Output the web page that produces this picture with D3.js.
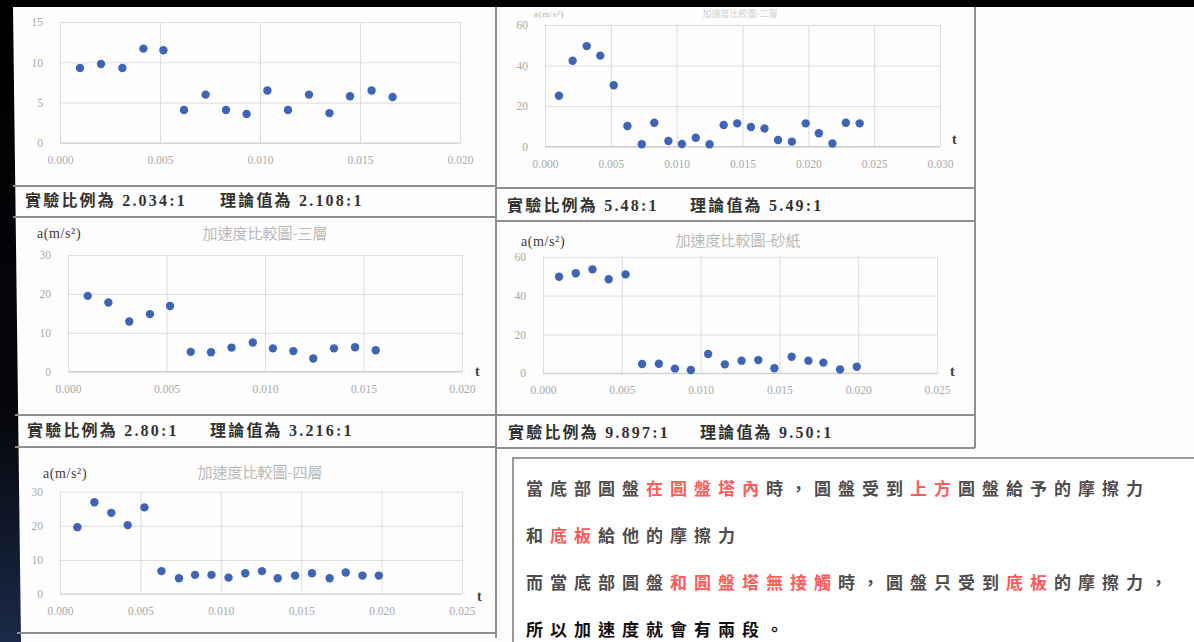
<!DOCTYPE html>
<html>
<head>
<meta charset="utf-8">
<script src="https://cdn.jsdelivr.net/npm/d3@7/dist/d3.min.js"></script>
<style>
  html, body { margin: 0; padding: 0; background: #000; }
  svg { display: block; }
</style>
</head>
<body>
<svg id="chart" width="1194" height="642"></svg>
<script>
// ---------- data ----------
const t1 = [0.00100,0.00205,0.00312,0.00417,0.00517,0.00620,0.00728,0.00830,0.00933,0.01037,0.01140,0.01245,0.01347,0.01450,0.01558,0.01663];
const a1 = [9.3,9.8,9.3,11.7,11.5,4.1,6.0,4.1,3.6,6.5,4.1,6.0,3.7,5.8,6.5,5.7];

const t2 = [0.00106,0.00210,0.00317,0.00420,0.00522,0.00626,0.00735,0.00830,0.00937,0.01040,0.01145,0.01250,0.01357,0.01460,0.01564,0.01667,0.01770,0.01875,0.01980,0.02080,0.02183,0.02285,0.02390];
const a2 = [25.1,42.4,49.6,44.9,30.3,10.2,1.2,11.8,2.8,1.3,4.4,1.2,10.7,11.5,9.7,9.0,3.3,2.5,11.5,6.6,1.6,11.8,11.5];

const t3 = [0.00100,0.00205,0.00311,0.00416,0.00518,0.00623,0.00726,0.00830,0.00938,0.01040,0.01144,0.01245,0.01350,0.01457,0.01562];
const a3 = [19.5,17.8,12.9,14.8,16.9,5.1,5.0,6.2,7.5,6.0,5.3,3.4,6.0,6.3,5.5];

const t4 = [0.00102,0.00208,0.00314,0.00417,0.00524,0.00629,0.00735,0.00837,0.00938,0.01048,0.01154,0.01260,0.01366,0.01468,0.01578,0.01684,0.01779,0.01885,0.01991];
const a4 = [49.7,51.5,53.5,48.4,50.9,4.8,4.9,2.4,1.7,9.9,4.6,6.5,6.8,2.6,8.5,6.5,5.5,2.0,3.4];

const t5 = [0.00108,0.00214,0.00319,0.00421,0.00525,0.00631,0.00740,0.00840,0.00942,0.01048,0.01152,0.01256,0.01354,0.01462,0.01567,0.01677,0.01777,0.01881,0.01983];
const a5 = [19.6,26.9,23.8,20.2,25.4,6.7,4.6,5.6,5.6,4.8,6.1,6.7,4.6,5.4,6.1,4.6,6.3,5.4,5.4];

const xTicks020 = [0, 0.005, 0.010, 0.015, 0.020];
const xTicks025 = [0, 0.005, 0.010, 0.015, 0.020, 0.025];
const xTicks030 = [0, 0.005, 0.010, 0.015, 0.020, 0.025, 0.030];
const yTicks15 = [0, 5, 10, 15];
const yTicks30 = [0, 10, 20, 30];
const yTicks60 = [0, 20, 40, 60];

const chartTitles = ["", "加速度比較圖-二層", "加速度比較圖-三層", "加速度比較圖-砂紙", "加速度比較圖-四層"];
const yAxisLabel = "a(m/s²)";
const xAxisLabel = "t";

const captionExpLabel = "實驗比例為";
const captionTheoryLabel = "理論值為";
const captionExp = ["2.034:1", "5.48:1", "2.80:1", "9.897:1"];
const captionTheory = ["2.108:1", "5.49:1", "3.216:1", "9.50:1"];

const noteLines = [
  [["當底部圓盤", 0], ["在圓盤塔內", 1], ["時，圓盤受到", 0], ["上方", 1], ["圓盤給予的摩擦力", 0]],
  [["和", 0], ["底板", 1], ["給他的摩擦力", 0]],
  [["而當底部圓盤", 0], ["和圓盤塔無接觸", 1], ["時，圓盤只受到", 0], ["底板", 1], ["的摩擦力，", 0]],
  [["所以加速度就會有兩段。", 2]]
];

// ---------- layout ----------
const svg = d3.select("#chart");
const W = 1194, H = 642;

const defs = svg.append("defs");
const grad = defs.append("linearGradient").attr("id", "bg").attr("x1", 0).attr("y1", 0).attr("x2", 0).attr("y2", 1);
grad.append("stop").attr("offset", "0%").attr("stop-color", "#000");
grad.append("stop").attr("offset", "65%").attr("stop-color", "#05070c");
grad.append("stop").attr("offset", "100%").attr("stop-color", "#1a2a48");
svg.append("rect").attr("width", W).attr("height", H).attr("fill", "url(#bg)");

// white slide area (slightly skewed left edge)
svg.append("path").attr("d", "M13,7 L1194,7 L1194,642 L21,642 Z").attr("fill", "#fefefe");

const frameColor = "#8f8f8f";
const g = svg.append("g");

function hline(x1, x2, y) {
  g.append("line").attr("x1", x1).attr("x2", x2).attr("y1", y).attr("y2", y)
    .attr("stroke", frameColor).attr("stroke-width", 2);
}
function vline(x, y1, y2) {
  g.append("line").attr("x1", x).attr("x2", x).attr("y1", y1).attr("y2", y2)
    .attr("stroke", frameColor).attr("stroke-width", 2);
}

// table frame
hline(13, 496, 186); hline(13, 496, 217);
hline(15, 496, 415); hline(15, 496, 447);
hline(17, 496, 633);
hline(496, 975, 188); hline(496, 975, 221);
hline(496, 975, 415); hline(496, 975, 448);
vline(496, 7, 638);
vline(975, 7, 448);

const panels = [
  { t: t1, a: a1, xt: xTicks020, yt: yTicks15, box: [60, 460, 22, 143], title: chartTitles[0], titlePos: null, ylab: null, tlab: null },
  { t: t2, a: a2, xt: xTicks030, yt: yTicks60, box: [545, 940, 25, 146.7], title: chartTitles[1], titlePos: [740, 17], ylab: [534, 17], tlab: [952, 144], small: true },
  { t: t3, a: a3, xt: xTicks020, yt: yTicks30, box: [68, 462, 255, 371.7], title: chartTitles[2], titlePos: [265, 239], ylab: [37, 238], tlab: [475, 376] },
  { t: t4, a: a4, xt: xTicks025, yt: yTicks60, box: [543, 937, 256.7, 373.3], title: chartTitles[3], titlePos: [738, 246], ylab: [521, 246], tlab: [950, 376] },
  { t: t5, a: a5, xt: xTicks025, yt: yTicks30, box: [60, 462, 491.7, 594], title: chartTitles[4], titlePos: [260, 478], ylab: [43, 478], tlab: [477, 601] }
];

panels.forEach(p => {
  const [x0, x1, yTop, yBot] = p.box;
  const xs = d3.scaleLinear().domain([p.xt[0], p.xt[p.xt.length - 1]]).range([x0, x1]);
  const ys = d3.scaleLinear().domain([p.yt[0], p.yt[p.yt.length - 1]]).range([yBot, yTop]);
  const pg = svg.append("g");

  // y gridlines + labels
  const yAxis = pg.append("g").attr("transform", `translate(${x0},0)`)
    .call(d3.axisLeft(ys).tickValues(p.yt).tickSize(-(x1 - x0)).tickPadding(17).tickFormat(d3.format("d")));
  yAxis.select(".domain").remove();
  yAxis.selectAll("line").attr("stroke", "#dcdcdc").attr("stroke-width", 1);
  yAxis.selectAll("text").attr("fill", "#a8a8a8").attr("font-size", 11.5)
    .attr("font-family", "'Liberation Serif', serif");

  // x gridlines + labels
  const xAxis = pg.append("g").attr("transform", `translate(0,${yBot})`)
    .call(d3.axisBottom(xs).tickValues(p.xt).tickSize(-(yBot - yTop)).tickPadding(13).tickFormat(d3.format(".3f")));
  xAxis.select(".domain").remove();
  xAxis.selectAll("line").attr("stroke", "#dcdcdc").attr("stroke-width", 1);
  xAxis.selectAll("text").attr("fill", "#a8a8a8").attr("font-size", 11.5)
    .attr("font-family", "'Liberation Serif', serif");

  // x axis baseline
  pg.append("line").attr("x1", x0).attr("x2", x1).attr("y1", ys(0)).attr("y2", ys(0))
    .attr("stroke", "#cfcfcf").attr("stroke-width", 1.2);

  // points
  pg.selectAll("circle.pt").data(p.t.map((tv, i) => [tv, p.a[i]])).join("circle")
    .attr("class", "pt")
    .attr("cx", d => xs(d[0])).attr("cy", d => ys(d[1])).attr("r", 4.2)
    .attr("fill", "#3f64b5");

  if (p.titlePos) {
    pg.append("text").attr("x", p.titlePos[0]).attr("y", p.titlePos[1])
      .attr("text-anchor", "middle").attr("font-size", p.small ? 9 : 15)
      .attr("font-family", "'Noto Sans CJK TC', sans-serif")
      .attr("fill", p.small ? "#d0d0d0" : "#b9b9b9").text(p.title);
  }
  if (p.ylab) {
    pg.append("text").attr("x", p.ylab[0]).attr("y", p.ylab[1])
      .attr("font-size", p.small ? 9 : 14).attr("font-family", "'Liberation Serif', serif")
      .attr("fill", p.small ? "#b0b0b0" : "#3c3c3c").attr("letter-spacing", 0.6).text(yAxisLabel);
  }
  if (p.tlab) {
    pg.append("text").attr("x", p.tlab[0]).attr("y", p.tlab[1])
      .attr("font-size", 14).attr("font-weight", "bold")
      .attr("font-family", "'Liberation Serif', serif")
      .attr("fill", "#3c3c3c").text(xAxisLabel);
  }
});

// captions under the charts
const captionPos = [[25, 220, 206], [507, 690, 211], [27, 210, 436], [508, 700, 438]];
const capFont = "'Liberation Serif', 'Noto Sans CJK TC', serif";
captionPos.forEach((c, i) => {
  svg.append("text").attr("x", c[0]).attr("y", c[2])
    .attr("font-size", 16).attr("font-weight", "bold").attr("font-family", capFont)
    .attr("letter-spacing", 2.2).attr("fill", "#333")
    .text(captionExpLabel + " " + captionExp[i]);
  svg.append("text").attr("x", c[1]).attr("y", c[2])
    .attr("font-size", 16).attr("font-weight", "bold").attr("font-family", capFont)
    .attr("letter-spacing", 2.2).attr("fill", "#333")
    .text(captionTheoryLabel + " " + captionTheory[i]);
});

// text box on the lower right
svg.append("rect").attr("x", 513).attr("y", 458).attr("width", 700).attr("height", 200)
  .attr("fill", "#fff").attr("stroke", "#9a9a9a").attr("stroke-width", 2);

const noteColors = ["#4d4d4d", "#ff5b5b", "#111"];
const noteY = [495, 542, 589, 636];
noteLines.forEach((line, li) => {
  const txt = svg.append("text").attr("x", 526).attr("y", noteY[li])
    .attr("font-size", 17).attr("font-weight", "bold")
    .attr("font-family", "'Noto Sans CJK TC', sans-serif")
    .attr("letter-spacing", 7.0);
  line.forEach(seg => {
    txt.append("tspan").attr("fill", noteColors[seg[1]]).text(seg[0]);
  });
});
</script>
</body>
</html>
